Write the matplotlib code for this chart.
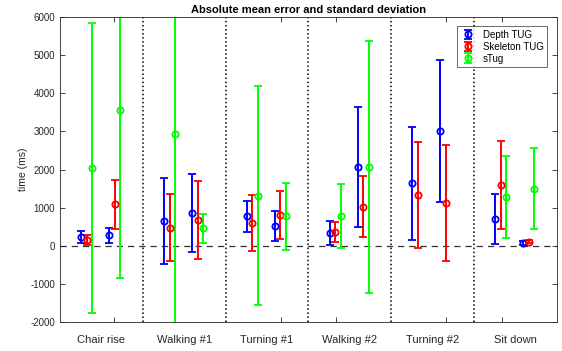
import numpy as np
import matplotlib
matplotlib.use('Agg')
from matplotlib import pyplot as plt

plt.rcParams['font.family'] = ['Liberation Sans', 'DejaVu Sans']
plt.rcParams['axes.unicode_minus'] = False

categories = ['Chair rise', 'Walking #1', 'Turning #1', 'Walking #2', 'Turning #2', 'Sit down']

# two groups of three per category: first group, then second group
depth_mean = [230, 275, 655, 870, 780, 525, 340, 2070, 1640, 3010, 700, 80]
depth_std = [160, 190, 1120, 1020, 405, 395, 315, 1575, 1490, 1870, 655, 50]
skel_mean = [150, 1090, 480, 680, 605, 820, 365, 1030, 1330, 1125, 1605, 115]
skel_std = [130, 650, 880, 1030, 725, 630, 260, 800, 1390, 1530, 1150, 50]
stug_mean = [2050, 3560, 2940, 465, 1310, 780, 780, 2070, np.nan, np.nan, 1275, 1500]
stug_std = [3800, 4390, 5000, 380, 2870, 875, 835, 3290, np.nan, np.nan, 1070, 1060]

offsets = {'depth': (-0.245, 0.093), 'skel': (-0.176, 0.162), 'stug': (-0.108, 0.229)}
tick_pos = [1.156, 1.893, 3.165, 3.833, 5.162, 5.838]

cx = np.arange(1, len(categories) + 1)

def xpos(key):
    a, b = offsets[key]
    return np.ravel(np.column_stack([cx + a, cx + b]))

fig = plt.figure(figsize=(5.62, 3.51), dpi=100)
ax = fig.add_axes([0.1068, 0.0818, 0.884, 0.8698])

for key, m, s, col, lab in [('depth', depth_mean, depth_std, 'b', 'Depth TUG'),
                            ('skel', skel_mean, skel_std, 'r', 'Skeleton TUG'),
                            ('stug', stug_mean, stug_std, '#00ff00', 'sTug')]:
    ax.errorbar(xpos(key), m, yerr=s, fmt='o', color=col, mfc='none', mec=col,
                ms=4.5, mew=1.3, elinewidth=1.4, capsize=3, capthick=1.4, label=lab)

ax.axhline(0, color='#333333', ls=(0, (5, 4)), lw=0.9, zorder=0)
for i in range(1, len(categories)):
    ax.axvline(i + 0.5, color='black', ls=':', lw=1.1, zorder=0)

ax.set_xlim(0.5, 6.5)
ax.set_ylim(-2000, 6000)
ax.set_yticks(np.arange(-2000, 6001, 1000))
ax.set_xticks(cx)
ax.set_xticklabels(categories, fontsize=8, color='#262626')
ax.set_xticks(tick_pos, minor=True)
ax.tick_params(axis='x', which='major', length=0, pad=9)
ax.tick_params(axis='x', which='minor', direction='in', length=3.5, top=True, width=0.6, color='#262626')
ax.tick_params(axis='y', direction='in', length=3.5, right=True, width=0.6, labelsize=7,
               labelcolor='#262626', color='#262626')
for sp in ax.spines.values():
    sp.set_color('#262626')
    sp.set_linewidth(0.6)

ax.set_ylabel('time (ms)', fontsize=7.5, color='#262626', labelpad=2)
ax.set_title('Absolute mean error and standard deviation', fontsize=8, fontweight='bold', pad=3)

leg = ax.legend(loc='upper right', fontsize=7, frameon=True, fancybox=False,
                edgecolor='#262626', borderpad=0.35, labelspacing=0.2, handlelength=1.5,
                bbox_to_anchor=(0.99, 0.985))
leg.get_frame().set_linewidth(0.6)

fig.savefig('out.png', dpi=100)
